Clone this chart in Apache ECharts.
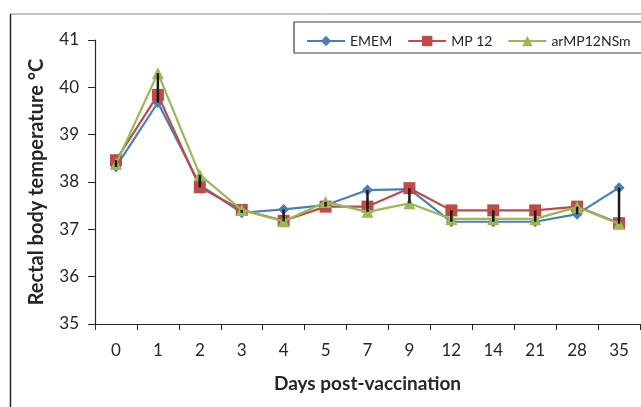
<!DOCTYPE html>
<html>
<head>
<meta charset="utf-8">
<script src="https://cdn.jsdelivr.net/npm/echarts@6/dist/echarts.min.js"></script>
<style>html,body{margin:0;padding:0;background:#fff}#c{width:641px;height:407px}</style>
</head>
<body>
<div id="c"></div>
<script>
const days = ['0','1','2','3','4','5','7','9','12','14','21','28','35'];
const emem = [38.32, 39.68, 37.94, 37.35, 37.42, 37.51, 37.83, 37.85, 37.16, 37.16, 37.16, 37.32, 37.88];
const mp12 = [38.46, 39.84, 37.89, 37.41, 37.18, 37.48, 37.48, 37.87, 37.40, 37.40, 37.40, 37.48, 37.13];
const armp = [38.38, 40.30, 38.15, 37.41, 37.17, 37.58, 37.37, 37.55, 37.22, 37.22, 37.22, 37.47, 37.12];
const yTicks = [35, 36, 37, 38, 39, 40, 41];

const hiLo = days.map((d, i) => {
  const v = [emem[i], mp12[i], armp[i]];
  return [i, Math.min(...v), Math.max(...v)];
});

const FONT = 'Lato';
const TXT = '#262626';
const chart = echarts.init(document.getElementById('c'));
chart.setOption({
  animation: false,
  textStyle: { fontFamily: FONT },
  grid: { left: 95, right: 1, top: 40, bottom: 83 },
  legend: {
    left: 301, top: 29, width: 600, itemWidth: 38, itemHeight: 13, itemGap: 15,
    textStyle: { fontFamily: FONT, fontSize: 14, color: TXT },
    data: ['EMEM', 'MP 12', 'arMP12NSm']
  },
  graphic: [
    { type: 'line', shape: { x1: 10, y1: 14, x2: 641, y2: 14 }, style: { stroke: '#8c8c8c', lineWidth: 1 } },
    { type: 'line', shape: { x1: 10.5, y1: 14, x2: 10.5, y2: 407 }, style: { stroke: '#262626', lineWidth: 1.5 } },
    { type: 'rect', shape: { x: 294, y: 22, width: 400, height: 31 }, style: { stroke: '#404040', fill: 'none', lineWidth: 1.2 } }
  ],
  xAxis: {
    type: 'category', data: days, boundaryGap: true,
    name: 'Days post-vaccination', nameLocation: 'middle', nameGap: 50,
    nameTextStyle: { fontFamily: FONT, fontSize: 19, fontWeight: 'bold', color: TXT },
    axisLine: { lineStyle: { color: '#262626', width: 1.2 } },
    axisTick: { show: true, length: 6, lineStyle: { color: '#262626' } },
    axisLabel: { fontFamily: FONT, fontSize: 17, color: TXT, margin: 18 }
  },
  yAxis: {
    type: 'value', min: 35, max: 41, interval: 1,
    name: 'Rectal body temperature °C', nameLocation: 'middle', nameGap: 48,
    nameTextStyle: { fontFamily: FONT, fontSize: 20, fontWeight: 'bold', color: TXT },
    splitLine: { show: false },
    axisLine: { show: true, lineStyle: { color: '#262626', width: 1.2 } },
    axisTick: { show: true, length: 7, lineStyle: { color: '#262626' } },
    axisLabel: { fontFamily: FONT, fontSize: 17, color: TXT, margin: 16,
      formatter: v => yTicks.includes(v) ? String(v) : '' }
  },
  series: [
    { name: 'EMEM', type: 'line', data: emem, symbol: 'diamond', symbolSize: 11,
      itemStyle: { color: '#4a7ebb' }, lineStyle: { color: '#4a7ebb', width: 2.2 }, z: 2 },
    { name: 'MP 12', type: 'line', data: mp12, symbol: 'rect', symbolSize: 12,
      itemStyle: { color: '#be4b48' }, lineStyle: { color: '#be4b48', width: 2.2 }, z: 3 },
    { name: 'arMP12NSm', type: 'line', data: armp, symbol: 'triangle', symbolSize: 12,
      itemStyle: { color: '#98b954' }, lineStyle: { color: '#98b954', width: 2.2 }, z: 4 },
    { type: 'custom', data: hiLo, z: 10, silent: true,
      renderItem: (params, api) => {
        const p1 = api.coord([api.value(0), api.value(1)]);
        const p2 = api.coord([api.value(0), api.value(2)]);
        return { type: 'line', shape: { x1: p1[0], y1: p1[1], x2: p2[0], y2: p2[1] },
          style: { stroke: '#1a1a1a', lineWidth: 2.5 } };
      } }
  ]
});
</script>
</body>
</html>
